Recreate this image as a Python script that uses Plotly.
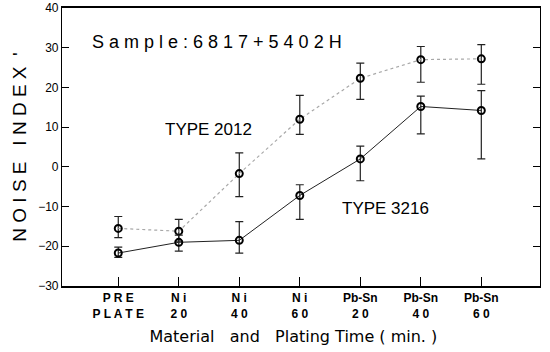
import plotly.graph_objects as go

categories = ["PRE<br>PLATE", "Ni<br>20", "Ni<br>40", "Ni<br>60", "Pb-Sn<br>20", "Pb-Sn<br>40", "Pb-Sn<br>60"]
tick_labels = ["P R E<br>P L A T E", "N i<br>2 0", "N i<br>4 0", "N i<br>6 0", "Pb-Sn<br>2 0", "Pb-Sn<br>4 0", "Pb-Sn<br>6 0"]

type2012 = [-15.5, -16.2, -1.7, 12.0, 22.3, 27.0, 27.2]
type2012_up = [3.0, 3.0, 5.2, 6.0, 3.8, 3.3, 3.6]
type2012_dn = [2.3, 2.5, 5.8, 3.8, 5.3, 5.7, 6.4]

type3216 = [-21.7, -19.0, -18.5, -7.2, 2.0, 15.2, 14.2]
type3216_up = [1.5, 1.8, 4.7, 2.7, 3.2, 2.6, 5.0]
type3216_dn = [1.1, 2.2, 3.2, 6.0, 5.5, 6.9, 12.2]

y_ticks = [-30, -20, -10, 0, 10, 20, 30, 40]

xs = list(range(len(categories)))
font = "Liberation Sans, Arial, Helvetica, sans-serif"
wide = "DejaVu Sans, Verdana, sans-serif"

fig = go.Figure()
fig.add_trace(go.Scatter(
    x=xs, y=type2012, mode="lines+markers",
    line=dict(color="#a8a8a8", width=1.2, dash="dot"),
    marker=dict(symbol="circle-open", size=7, color="black", line=dict(width=2, color="black")),
    error_y=dict(type="data", symmetric=False, array=type2012_up, arrayminus=type2012_dn,
                 color="#222222", thickness=1.2, width=4),
    showlegend=False))
fig.add_trace(go.Scatter(
    x=xs, y=type3216, mode="lines+markers",
    line=dict(color="#222222", width=1),
    marker=dict(symbol="circle-open", size=7, color="black", line=dict(width=2, color="black")),
    error_y=dict(type="data", symmetric=False, array=type3216_up, arrayminus=type3216_dn,
                 color="#222222", thickness=1.2, width=4),
    showlegend=False))

fig.update_layout(
    width=550, height=352,
    margin=dict(l=62, r=10, t=8, b=66),
    paper_bgcolor="white", plot_bgcolor="white",
    font=dict(family=font, color="black"),
    xaxis=dict(range=[-0.93, 6.97], tickmode="array", tickvals=xs, ticktext=tick_labels,
               ticks="inside", ticklen=9, tickcolor="black", showgrid=False, zeroline=False,
               showline=True, linecolor="black", linewidth=1.5, mirror=True, automargin=False,
               tickfont=dict(size=12, family=font, weight="bold"),
               title=dict(text="Material&nbsp;&nbsp; and&nbsp;&nbsp; Plating Time ( min. )&nbsp;&nbsp;&nbsp;",
                          font=dict(size=16, family=wide), standoff=11)),
    yaxis=dict(range=[-30, 40], tickmode="array", tickvals=y_ticks,
               ticks="inside", ticklen=7, tickcolor="black", showgrid=False, zeroline=False,
               showline=True, linecolor="black", linewidth=1.2, mirror="ticks", automargin=False,
               tickfont=dict(size=12, family=font),
               title=dict(text="N O I S E&nbsp;&nbsp; I N D E X&nbsp; '", font=dict(size=19, family=font),
                          standoff=6)),
)

fig.add_annotation(x=0.059, y=0.878, xref="paper", yref="paper", xanchor="left", yanchor="middle",
                   text="S a m p l e : 6 8 1 7 + 5 4 0 2 H", showarrow=False,
                   font=dict(size=18, family=font))
fig.add_annotation(x=1.49, y=9.3, xref="x", yref="y", xanchor="center", yanchor="middle",
                   text="TYPE 2012", showarrow=False, font=dict(size=17, family=font))
fig.add_annotation(x=4.42, y=-10.6, xref="x", yref="y", xanchor="center", yanchor="middle",
                   text="TYPE 3216", showarrow=False, font=dict(size=17, family=font))

fig.write_html("out.html", config={"displayModeBar": False},
               post_script="document.body.style.margin='0';")
